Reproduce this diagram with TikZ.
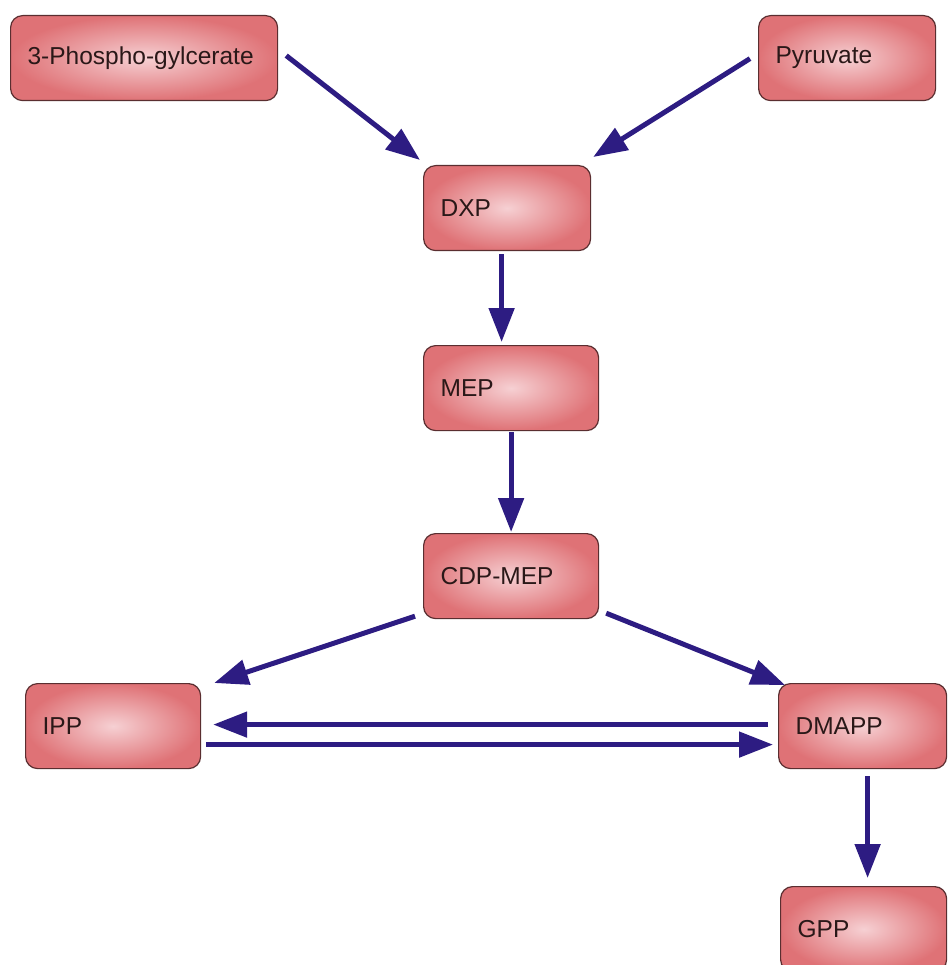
\documentclass[tikz,border=0pt]{standalone}
\usepackage{fontspec}
\setmainfont{Liberation Sans}
\usetikzlibrary{arrows.meta}
\definecolor{boxedge}{HTML}{5A2E30}
\definecolor{boxin}{HTML}{F6D0D3}
\definecolor{boxout}{HTML}{DF7276}
\definecolor{flow}{HTML}{2D1C82}
\definecolor{label}{HTML}{2A1818}
\tikzset{
  metab/.style={draw=boxedge, line width=1.2pt, rounded corners=12pt,
    inner color=boxin, outer color=boxout, anchor=north west,
    inner xsep=17pt, align=left, text=label,
    minimum height=85pt, font=\fontsize{24.5}{28}\selectfont},
  flowarrow/.style={draw=flow, line width=5pt,
    -{Triangle[length=34pt,width=25pt]}},
}
\begin{document}
\begin{tikzpicture}[x=1pt,y=-1pt]
\useasboundingbox (0,0) rectangle (947,965);
% metabolite boxes
\node[metab, text width=233pt] (pga) at (10,15) {3-Phospho-gylcerate};
\node[metab, text width=143pt] (pyr) at (758,15) {Pyruvate};
\node[metab, text width=133pt] (dxp) at (423,165) {DXP};
\node[metab, text width=141pt] (mep) at (423,345) {MEP};
\node[metab, text width=141pt] (cdp) at (423,533) {CDP-MEP};
\node[metab, text width=141pt] (ipp) at (25,683) {IPP};
\node[metab, text width=134pt] (dmapp) at (778,683) {DMAPP};
\node[metab, text width=132pt] (gpp) at (780,886) {GPP};
% pathway steps
\draw[flowarrow] ([shift={(8pt,2.5pt)}]pga.east) -- ([shift={(-3pt,5pt)}]dxp.north west);
\draw[flowarrow] ([shift={(-8pt,-0.5pt)}]pyr.west) -- ([shift={(2pt,8pt)}]dxp.north east);
\draw[flowarrow] ([shift={(-5.5pt,-3pt)}]dxp.south) -- ([shift={(-9.5pt,3pt)}]mep.north);
\draw[flowarrow] ([yshift=-1pt]mep.south) -- ([yshift=1pt]cdp.north);
\draw[flowarrow] ([shift={(-8pt,3pt)}]cdp.south west) -- ([xshift=13pt]ipp.north east);
\draw[flowarrow] ([shift={(7pt,6pt)}]cdp.south east) -- ([shift={(7pt,-2pt)}]dmapp.north west);
\draw[flowarrow] ([shift={(-10pt,1.5pt)}]dmapp.west) -- ([shift={(12pt,1.5pt)}]ipp.east);
\draw[flowarrow] ([shift={(5pt,-18.5pt)}]ipp.east) -- ([shift={(-5pt,-18.5pt)}]dmapp.west);
\draw[flowarrow] ([shift={(5pt,-7pt)}]dmapp.south) -- ([shift={(4pt,8pt)}]gpp.north);
\end{tikzpicture}
\end{document}
